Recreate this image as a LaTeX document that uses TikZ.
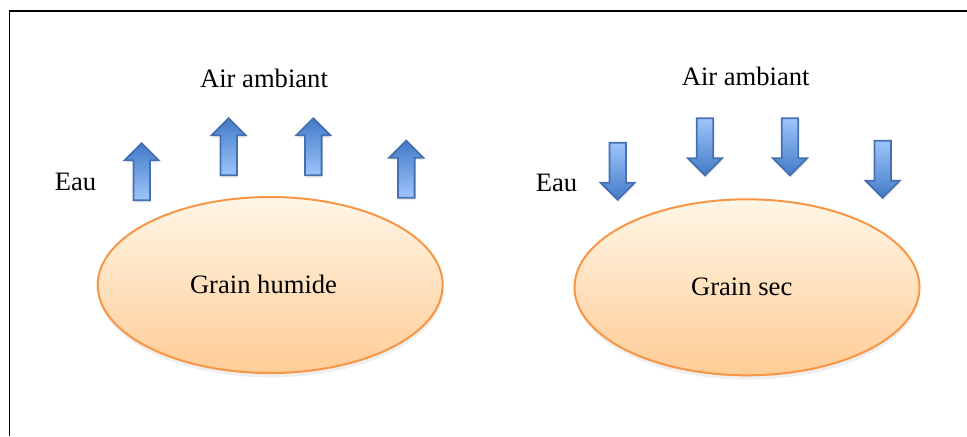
\documentclass[tikz,border=0pt]{standalone}
\usepackage{fontspec}
\setmainfont{Liberation Serif}
\usetikzlibrary{shapes.geometric,shadows}
\definecolor{adark}{RGB}{66,123,200}
\definecolor{alight}{RGB}{158,197,250}
\definecolor{aborder}{RGB}{70,112,178}
\definecolor{etop}{RGB}{255,246,230}
\definecolor{ebot}{RGB}{255,204,150}
\definecolor{eborder}{RGB}{247,150,70}
\tikzset{
  arrowbody/.style={draw=aborder, line width=0.9pt, line join=miter,
    drop shadow={opacity=0.18, shadow xshift=0.3pt, shadow yshift=-1.2pt}},
  uparr/.pic={\shade[arrowbody, top color=adark, bottom color=alight]
     (0,0) -- (17,17) -- (8.3,17) -- (8.3,57) -- (-8.3,57) -- (-8.3,17) -- (-17,17) -- cycle;},
  downarr/.pic={\shade[arrowbody, top color=alight, bottom color=adark]
     (-8.3,0) -- (8.3,0) -- (8.3,40) -- (17,40) -- (0,57) -- (-17,40) -- (-8.3,40) -- cycle;},
  grain/.style={ellipse, draw=eborder, line width=1pt, top color=etop, bottom color=ebot,
    minimum width=172.5pt, minimum height=88pt, inner sep=0pt,
    drop shadow={opacity=0.13, shadow xshift=0.3pt, shadow yshift=-2.2pt}},
  lbl/.style={font=\fontsize{13.3}{16}\selectfont, inner sep=0pt, text=black},
  frameline/.style={line width=0.8pt, black}
}
\begin{document}
\begin{tikzpicture}[x=0.5pt, y=-0.5pt]
\useasboundingbox (0,0) rectangle (967,436);
% frame
\coordinate (fbl) at (9.5,436);
\coordinate (ftl) at (9.5,11);
\coordinate (ftr) at (967,11);
\draw[frameline] (fbl) -- (ftl) -- (ftr);
% left: grain humide
\node[grain] (gh) at (270.2,285) {};
\node[lbl] (ghtxt) at (263.5,284) {Grain humide};
\node[lbl] (air1) at (264,78) {Air ambiant};
\node[lbl] (eau1) at (75.5,182) {Eau};
\pic at (141.7,143.3) {uparr};
\pic at (228.7,118.3) {uparr};
\pic at (313.3,118.3) {uparr};
\pic at (406.3,140.7) {uparr};
% right: grain sec
\node[grain] (gs) at (747,287.3) {};
\node[lbl] (gstxt) at (741.7,286.5) {Grain sec};
\node[lbl] (air2) at (745.7,76.5) {Air ambiant};
\node[lbl] (eau2) at (556.5,183) {Eau};
\pic at (617.7,142.7) {downarr};
\pic at (705,118.3) {downarr};
\pic at (790,118.3) {downarr};
\pic at (882.7,140.7) {downarr};
\end{tikzpicture}
\end{document}
